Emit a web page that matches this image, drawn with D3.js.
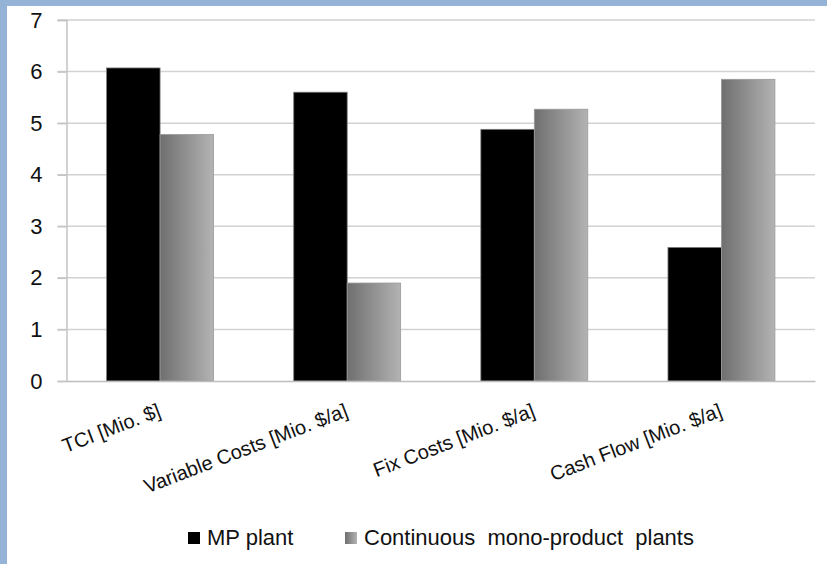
<!DOCTYPE html>
<html>
<head>
<meta charset="utf-8">
<script src="https://cdn.jsdelivr.net/npm/d3@7/dist/d3.min.js"></script>
<style>
  html, body { margin: 0; padding: 0; background: #fff; }
  svg { display: block; }
  text { font-family: "Liberation Sans", Arial, sans-serif; fill: #111; }
</style>
</head>
<body>
<script>
// Cost comparison: multi-product plant vs. continuous mono-product plants
const categories = ["TCI [Mio. $]", "Variable Costs [Mio. $/a]", "Fix Costs [Mio. $/a]", "Cash Flow [Mio. $/a]"];
const seriesNames = ["MP plant", "Continuous mono-product plants"];
const mpPlant = [6.07, 5.6, 4.88, 2.59];
const monoPlants = [4.78, 1.9, 5.27, 5.85];
const yTicks = [0, 1, 2, 3, 4, 5, 6, 7];

const W = 827, H = 564;
const svg = d3.select("body").append("svg").attr("width", W).attr("height", H);

// light blue frame on the left and top edges
svg.append("rect").attr("x", 0).attr("y", 0).attr("width", W).attr("height", H).attr("fill", "#95b3d7");
svg.append("rect").attr("x", 7).attr("y", 6).attr("width", W - 7).attr("height", H - 6).attr("fill", "#fff");

const defs = svg.append("defs");
const grad = defs.append("linearGradient").attr("id", "monoGrad")
  .attr("x1", "0%").attr("x2", "100%").attr("y1", "0%").attr("y2", "0%");
grad.append("stop").attr("offset", "0%").attr("stop-color", "#6f6f6f");
grad.append("stop").attr("offset", "100%").attr("stop-color", "#b3b3b3");

const plotLeft = 66.5, plotRight = 815, plotTop = 20, plotBottom = 381;
const y = d3.scaleLinear().domain([0, 7]).range([plotBottom, plotTop]);
const x0 = d3.scaleBand().domain(categories).range([plotLeft, plotRight]).padding(0);
const x1 = d3.scaleBand().domain(seriesNames).range([0, x0.bandwidth()]).paddingInner(0).paddingOuter(0.75);

// horizontal gridlines with short ticks to the left of the axis
const grid = svg.append("g");
grid.selectAll("line").data(yTicks.filter(t => t > 0)).join("line")
  .attr("x1", plotLeft - 9).attr("x2", plotRight)
  .attr("y1", d => y(d)).attr("y2", d => y(d))
  .attr("stroke", "#d2d2d2").attr("stroke-width", 1.5);

// y axis
const yAxis = d3.axisLeft(y).tickValues(yTicks).tickSize(9).tickPadding(15).tickFormat(d3.format("d"));
const gy = svg.append("g").attr("transform", `translate(${plotLeft},0)`).call(yAxis);
gy.select(".domain").attr("stroke", "#c4c4c4").attr("stroke-width", 1.5);
gy.selectAll(".tick line").attr("stroke", "#c4c4c4").attr("stroke-width", 1.5);
gy.selectAll(".tick text").style("font-size", "22px").style("font-family", "Liberation Sans, Arial, sans-serif").attr("fill", "#111");

// bars
const data = categories.map((c, i) => ({ cat: c, vals: [mpPlant[i], monoPlants[i]] }));
const groups = svg.append("g").selectAll("g").data(data).join("g")
  .attr("transform", d => `translate(${x0(d.cat)},0)`);
groups.selectAll("rect").data(d => d.vals.map((v, j) => ({ v, s: seriesNames[j] }))).join("rect")
  .attr("x", d => x1(d.s))
  .attr("width", x1.bandwidth())
  .attr("y", d => y(d.v))
  .attr("height", d => y(0) - y(d.v))
  .attr("fill", d => d.s === seriesNames[0] ? "#000" : "url(#monoGrad)")
  .attr("stroke", d => d.s === seriesNames[0] ? "#7a7a7a" : "#9a9a9a")
  .attr("stroke-width", 0.8);

// x axis baseline and rotated category labels
const xAxis = d3.axisBottom(x0).tickSize(0).tickPadding(0);
const gx = svg.append("g").attr("transform", `translate(0,${plotBottom})`).call(xAxis);
gx.select(".domain").attr("stroke", "#bdbdbd").attr("stroke-width", 1.5);
gx.selectAll(".tick text")
  .style("font-size", "20px").style("font-family", "Liberation Sans, Arial, sans-serif")
  .attr("fill", "#111")
  .attr("text-anchor", "end")
  .attr("dy", "0")
  .attr("transform", "translate(2,35) rotate(-21)");

// legend
const legend = svg.append("g");
const legendItems = [
  { name: seriesNames[0], x: 188, fill: "#000" },
  { name: seriesNames[1], x: 345, fill: "url(#monoGrad)" }
];
legendItems.forEach((it, i) => {
  legend.append("rect").attr("x", it.x).attr("y", 532).attr("width", 12).attr("height", 12).attr("fill", it.fill);
  legend.append("text").attr("x", it.x + 19).attr("y", 545)
    .style("font-size", "22px")
    .style("word-spacing", i === 1 ? "6px" : "0px")
    .text(it.name);
});
</script>
</body>
</html>
